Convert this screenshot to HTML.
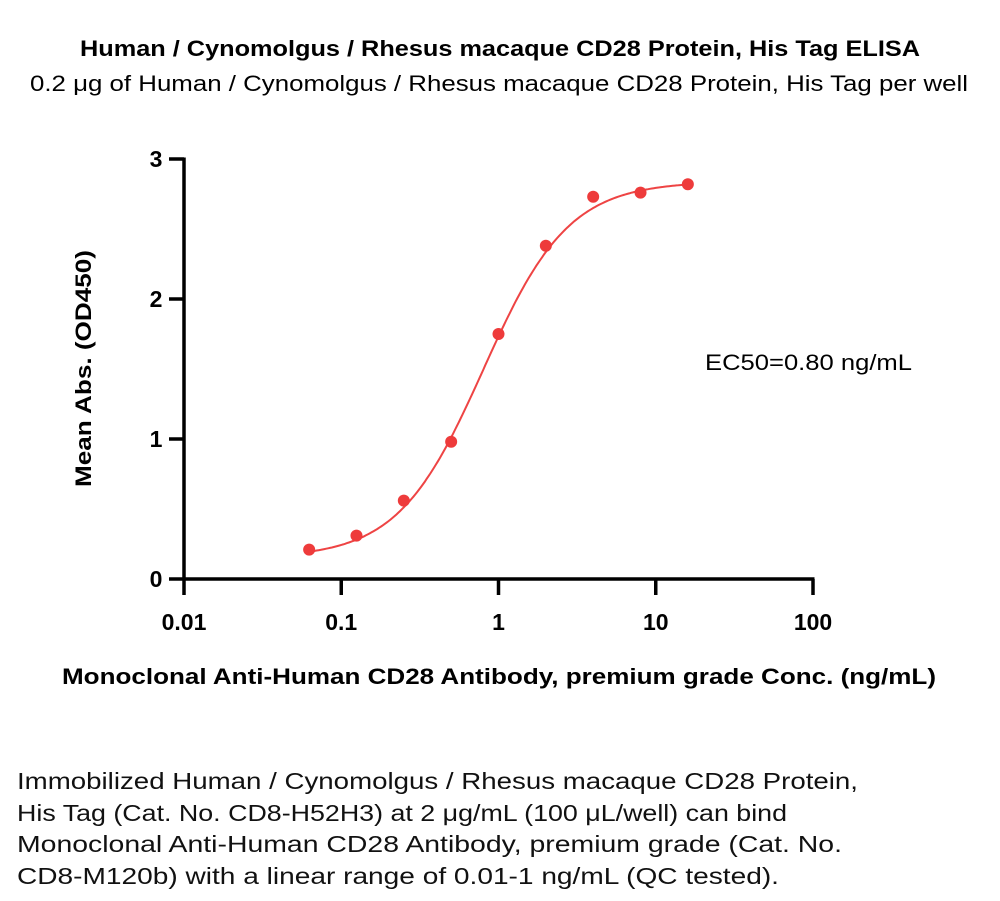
<!DOCTYPE html>
<html><head><meta charset="utf-8"><style>
body{margin:0;background:#fff;width:1000px;height:901px;overflow:hidden;font-family:"Liberation Sans",sans-serif}
</style></head><body>
<svg width="1000" height="901" style="position:absolute;left:0;top:0" font-family="Liberation Sans, sans-serif">
<text x="80" y="56" font-size="22" font-weight="bold" textLength="840" lengthAdjust="spacingAndGlyphs">Human / Cynomolgus / Rhesus macaque CD28 Protein, His Tag ELISA</text>
<text x="30" y="91" font-size="22" textLength="938" lengthAdjust="spacingAndGlyphs">0.2 μg of Human / Cynomolgus / Rhesus macaque CD28 Protein, His Tag per well</text>
<g id="axes"></g>
<g id="curve"></g>
<g id="pts"></g>
<text x="705" y="370" font-size="22" textLength="207" lengthAdjust="spacingAndGlyphs">EC50=0.80 ng/mL</text>
<text transform="translate(91,487) rotate(-90)" font-size="22" font-weight="bold" textLength="237" lengthAdjust="spacingAndGlyphs">Mean Abs. (OD450)</text>
<text x="62" y="684" font-size="22" font-weight="bold" textLength="874" lengthAdjust="spacingAndGlyphs">Monoclonal Anti-Human CD28 Antibody, premium grade Conc. (ng/mL)</text>
<g font-size="23" fill="#111">
<text x="17" y="789" textLength="841" lengthAdjust="spacingAndGlyphs">Immobilized Human / Cynomolgus / Rhesus macaque CD28 Protein,</text>
<text x="17" y="821" textLength="770" lengthAdjust="spacingAndGlyphs">His Tag (Cat. No. CD8-H52H3) at 2 μg/mL (100 μL/well) can bind</text>
<text x="17" y="852" textLength="825" lengthAdjust="spacingAndGlyphs">Monoclonal Anti-Human CD28 Antibody, premium grade (Cat. No.</text>
<text x="17" y="884" textLength="762" lengthAdjust="spacingAndGlyphs">CD8-M120b) with a linear range of 0.01-1 ng/mL (QC tested).</text>
</g>
</svg>
<script>
const concs=[0.0625,0.125,0.25,0.5,1,2,4,8,16];
const absVals=[0.21,0.31,0.56,0.98,1.75,2.38,2.73,2.76,2.82];
const xTicks=[0.01,0.1,1,10,100];
const xTickLabels=["0.01","0.1","1","10","100"];
const yTicks=[0,1,2,3];
const fitParams=[0.15,2.84,0.80,1.6]; // bottom, top, EC50, hill
const NS="http://www.w3.org/2000/svg";
const X0=184,X1=813,Y0=579,Y1=159;
const xs=v=>X0+(Math.log10(v)+2)/4*(X1-X0);
const ys=v=>Y0-v/3*(Y0-Y1);
function mk(t,a,p){const e=document.createElementNS(NS,t);for(const k in a)e.setAttribute(k,a[k]);p.appendChild(e);return e;}
const ax=document.getElementById('axes');
let l=mk('line',{x1:X0,y1:Y0,x2:X1+1.5,y2:Y0,stroke:'#000','stroke-width':3.5},ax);


l=mk('line',{x1:X0,y1:Y0+1.5,x2:X0,y2:Y1-1.5,stroke:'#000','stroke-width':3.5},ax);


xTicks.forEach((v,i)=>{
 const t=mk('line',{x1:xs(v),y1:Y0,x2:xs(v),y2:Y0+16,stroke:'#000','stroke-width':3.5},ax);
 
 
 const tx=mk('text',{x:xs(v),y:630,'text-anchor':'middle','font-size':23,'font-weight':'bold'},ax);
 tx.textContent=xTickLabels[i];
 
 
});
yTicks.forEach(v=>{
 const t=mk('line',{x1:X0-15,y1:ys(v),x2:X0,y2:ys(v),stroke:'#000','stroke-width':3.5},ax);
 
 
 const tx=mk('text',{x:156,y:ys(v)+8,'text-anchor':'middle','font-size':23,'font-weight':'bold'},ax);
 tx.textContent=String(v);
 
 
});
const [b,tp,ec,h]=fitParams;
let d='';
const lo=Math.log10(concs[0]),hi=Math.log10(concs[concs.length-1]);
for(let i=0;i<=200;i++){const lx=lo+(hi-lo)*i/200,c=Math.pow(10,lx);const y=b+(tp-b)/(1+Math.pow(ec/c,h));d+=(i?'L':'M')+xs(c).toFixed(1)+' '+ys(y).toFixed(1);}
const cv=mk('path',{d:d,fill:'none',stroke:'#ee4444','stroke-width':2},document.getElementById('curve'));


const pg=document.getElementById('pts');
concs.forEach((c,i)=>{
 const p=mk('circle',{cx:xs(c),cy:ys(absVals[i]),r:6,fill:'#ee3b3b'},pg);
 
 
});
</script>
</body></html>
